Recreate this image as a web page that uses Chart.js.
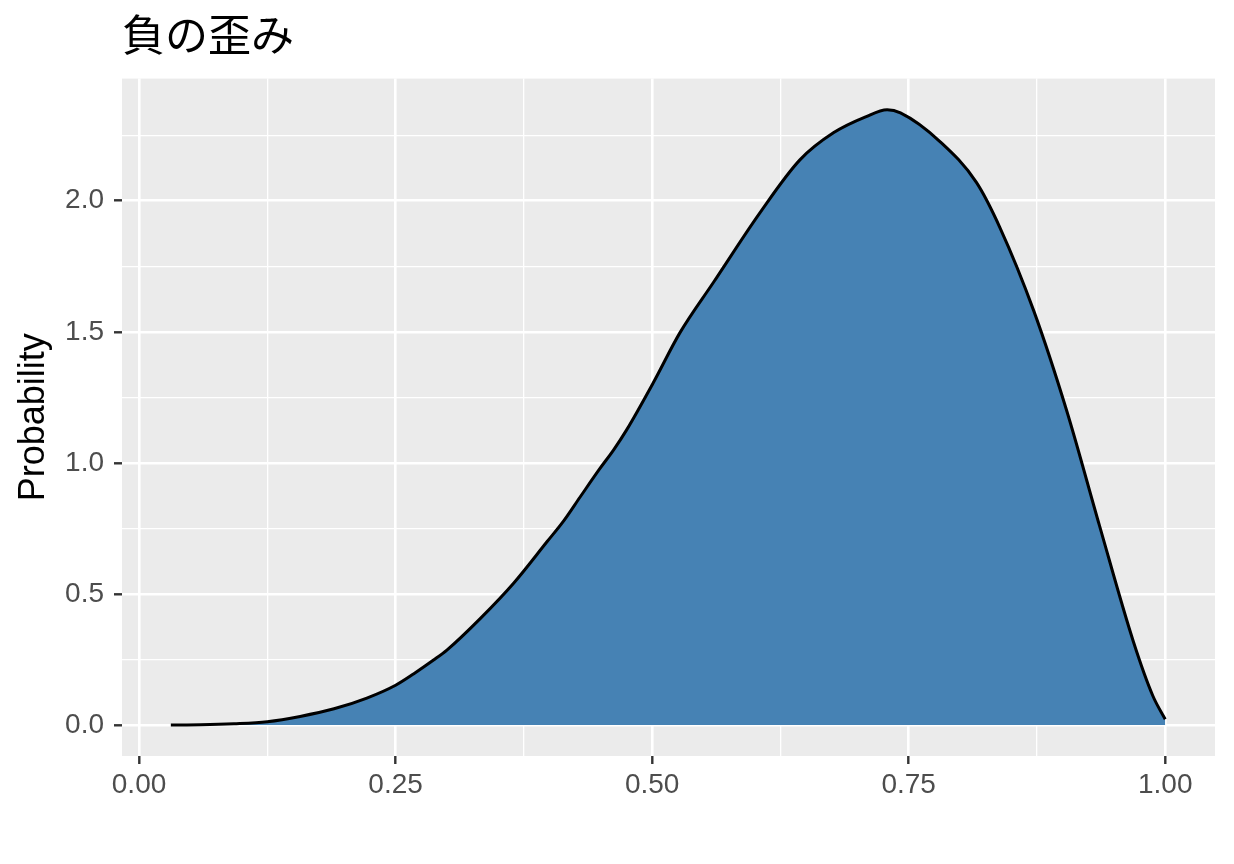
<!DOCTYPE html>
<html>
<head>
<meta charset="utf-8">
<script src="https://cdn.jsdelivr.net/npm/chart.js@4.4.1/dist/chart.umd.min.js"></script>
<style>
html,body{margin:0;padding:0;background:#ffffff;}
#wrap{width:1234px;height:864px;}
</style>
</head>
<body>
<div id="wrap"><canvas id="c" width="1234" height="864"></canvas></div>
<script>
const titleText = '負の歪み';
const yAxisTitle = 'Probability';

const densityX = [0.031, 0.06, 0.0925, 0.125, 0.157, 0.19, 0.222, 0.25, 0.2678, 0.287, 0.30, 0.3327, 0.365, 0.3977, 0.414, 0.43, 0.449, 0.4625, 0.475, 0.501, 0.527, 0.56, 0.605, 0.644, 0.677, 0.708, 0.729, 0.742, 0.781, 0.816, 0.839, 0.872, 0.904, 0.936, 0.969, 0.988, 1.0];
const densityY = [0, 0.001, 0.005, 0.013, 0.033, 0.062, 0.103, 0.152, 0.196, 0.248, 0.286, 0.407, 0.541, 0.70, 0.78, 0.871, 0.978, 1.05, 1.125, 1.305, 1.496, 1.69, 1.954, 2.156, 2.26, 2.32, 2.347, 2.335, 2.224, 2.07, 1.897, 1.579, 1.199, 0.76, 0.318, 0.111, 0.022];

const xMajorTicks = [0, 0.25, 0.5, 0.75, 1.0];
const xMinorTicks = [0.125, 0.375, 0.625, 0.875];
const xTickLabels = ['0.00', '0.25', '0.50', '0.75', '1.00'];
const yMajorTicks = [0, 0.5, 1.0, 1.5, 2.0];
const yMinorTicks = [0.25, 0.75, 1.25, 1.75, 2.25];
const yTickLabels = ['0.0', '0.5', '1.0', '1.5', '2.0'];

const xRange = [-0.0166, 1.0485];
const yRange = [-0.118, 2.466];

function majorIndex(list, v) {
  for (let i = 0; i < list.length; i++) if (Math.abs(list[i] - v) < 1e-9) return i;
  return -1;
}

Chart.defaults.font.family = "'Liberation Sans', Arial, Helvetica, sans-serif";

const panelBg = {
  id: 'panelBg',
  beforeDraw(chart) {
    const a = chart.chartArea;
    const ctx = chart.ctx;
    ctx.save();
    ctx.fillStyle = '#EBEBEB';
    ctx.fillRect(a.left, a.top, a.right - a.left, a.bottom - a.top);
    ctx.restore();
  }
};

function gridOpts(majors) {
  return {
    color: '#FFFFFF',
    lineWidth: (c) => (c.tick && majorIndex(majors, c.tick.value) >= 0) ? 2.6 : 1.3,
    drawTicks: true,
    tickLength: 8,
    tickWidth: 2.4,
    tickColor: (c) => (c.tick && majorIndex(majors, c.tick.value) >= 0) ? '#333333' : 'rgba(0,0,0,0)'
  };
}

new Chart(document.getElementById('c'), {
  type: 'line',
  data: {
    datasets: [{
      data: densityX.map((x, i) => ({ x: x, y: densityY[i] })),
      fill: 'origin',
      backgroundColor: '#4682B4',
      borderColor: '#000000',
      borderWidth: 3,
      pointRadius: 0,
      cubicInterpolationMode: 'monotone'
    }]
  },
  options: {
    responsive: false,
    animation: false,
    devicePixelRatio: 1,
    layout: { padding: { left: 0, right: 19, top: 0, bottom: 0 } },
    plugins: {
      legend: { display: false },
      tooltip: { enabled: false },
      title: {
        display: true,
        text: titleText,
        align: 'start',
        fullSize: false,
        color: '#000000',
        font: { family: "'Noto Sans CJK JP', 'Noto Sans CJK SC', sans-serif", size: 43, weight: 'normal', lineHeight: 1.2 },
        padding: { top: 9, bottom: 18 }
      }
    },
    scales: {
      x: {
        type: 'linear',
        min: xRange[0],
        max: xRange[1],
        afterBuildTicks: (s) => {
          s.ticks = xMajorTicks.concat(xMinorTicks).sort((a, b) => a - b).map(v => ({ value: v }));
        },
        afterFit: (s) => { s.height = 108; },
        border: { display: false },
        grid: gridOpts(xMajorTicks),
        ticks: {
          autoSkip: false,
          maxRotation: 0,
          padding: 4,
          color: '#4D4D4D',
          font: { size: 28 },
          callback: (v) => { const i = majorIndex(xMajorTicks, v); return i >= 0 ? xTickLabels[i] : ''; }
        }
      },
      y: {
        type: 'linear',
        min: yRange[0],
        max: yRange[1],
        afterBuildTicks: (s) => {
          s.ticks = yMajorTicks.concat(yMinorTicks).sort((a, b) => a - b).map(v => ({ value: v }));
        },
        afterFit: (s) => { s.width = 122; },
        border: { display: false },
        grid: gridOpts(yMajorTicks),
        title: {
          display: true,
          text: yAxisTitle,
          color: '#000000',
          font: { size: 36, lineHeight: 1.2 },
          padding: { top: 12, bottom: 0 }
        },
        ticks: {
          autoSkip: false,
          padding: 10,
          color: '#4D4D4D',
          font: { size: 28 },
          callback: (v) => { const i = majorIndex(yMajorTicks, v); return i >= 0 ? yTickLabels[i] : ''; }
        }
      }
    }
  },
  plugins: [panelBg]
});
</script>
</body>
</html>
